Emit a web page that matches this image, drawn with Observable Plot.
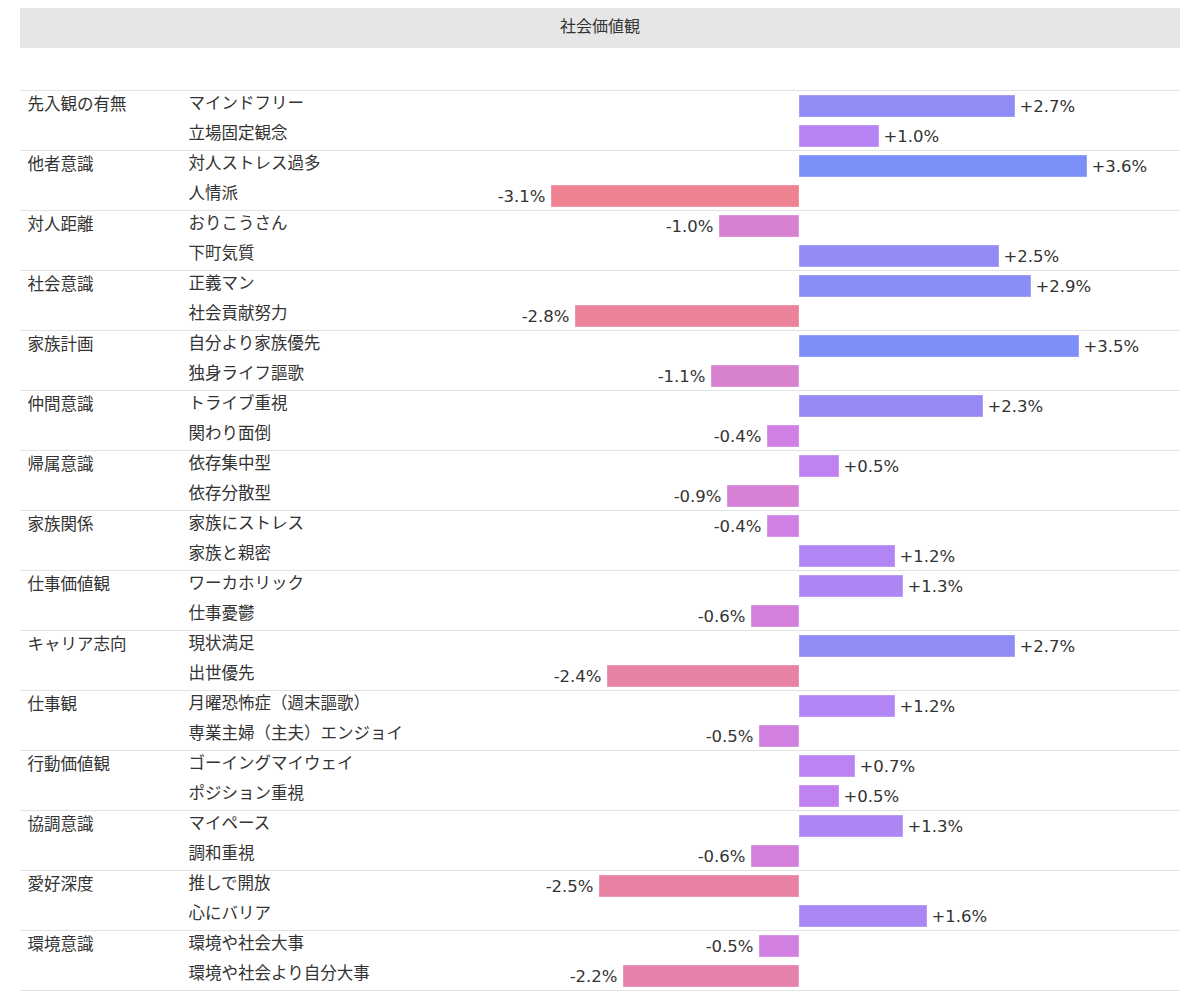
<!DOCTYPE html>
<html>
<head>
<meta charset="utf-8">
<script src="https://cdn.jsdelivr.net/npm/d3@7"></script>
<script src="https://cdn.jsdelivr.net/npm/@observablehq/plot@0.6"></script>
<style>
  body { margin: 0; background: #fff; font-family: "DejaVu Sans", "Noto Sans CJK JP", sans-serif; }
  #header { margin: 8px 20px 0 20px; height: 40px; line-height: 38px; background: #e6e6e6; color: #333; text-align: center; font-size: 16px; }
  #chart svg { display: block; }
</style>
</head>
<body>
<div id="header"></div>
<div id="chart"></div>
<script>
const title = "社会価値観";
const groups = ["先入観の有無", "他者意識", "対人距離", "社会意識", "家族計画", "仲間意識", "帰属意識", "家族関係", "仕事価値観", "キャリア志向", "仕事観", "行動価値観", "協調意識", "愛好深度", "環境意識"];
const items = [
  "マインドフリー", "立場固定観念",
  "対人ストレス過多", "人情派",
  "おりこうさん", "下町気質",
  "正義マン", "社会貢献努力",
  "自分より家族優先", "独身ライフ謳歌",
  "トライブ重視", "関わり面倒",
  "依存集中型", "依存分散型",
  "家族にストレス", "家族と親密",
  "ワーカホリック", "仕事憂鬱",
  "現状満足", "出世優先",
  "月曜恐怖症（週末謳歌）", "専業主婦（主夫）エンジョイ",
  "ゴーイングマイウェイ", "ポジション重視",
  "マイペース", "調和重視",
  "推しで開放", "心にバリア",
  "環境や社会大事", "環境や社会より自分大事"
];
const values = [
  2.7, 1.0,
  3.6, -3.1,
  -1.0, 2.5,
  2.9, -2.8,
  3.5, -1.1,
  2.3, -0.4,
  0.5, -0.9,
  -0.4, 1.2,
  1.3, -0.6,
  2.7, -2.4,
  1.2, -0.5,
  0.7, 0.5,
  1.3, -0.6,
  -2.5, 1.6,
  -0.5, -2.2
];
const itemsPerGroup = 2;

document.getElementById("header").textContent = title;

const rows = items.map((item, i) => ({
  group: groups[Math.floor(i / itemsPerGroup)],
  item,
  value: values[i],
  first: i % itemsPerGroup === 0,
  last: i === items.length - 1
}));
const firstRows = rows.filter(d => d.first);
const lastRows = rows.filter(d => d.last);

const fmt = v => (v > 0 ? "+" : "-") + Math.abs(v).toFixed(1) + "%";
const font = "'DejaVu Sans', 'Noto Sans CJK JP', sans-serif";

const chart = Plot.plot({
  width: 1200,
  height: 952,
  marginLeft: 20,
  marginRight: 20,
  marginTop: 0,
  marginBottom: 0,
  style: { fontFamily: font, fontSize: "16px", color: "#333", background: "#fff" },
  x: { domain: [-5, 4.75], range: [399, 1179], axis: null },
  y: { domain: items, range: [42, 942], paddingInner: 0.27, paddingOuter: 0.135, align: 0.6, axis: null },
  color: {
    type: "linear",
    domain: [-3.1, 0, 3.6],
    range: ["#ee8290", "#cc80f0", "#7a90f8"],
    interpolate: "rgb"
  },
  marks: [
    Plot.ruleY(firstRows, { y: "item", dy: -16, stroke: "#e2e2e2", strokeWidth: 1 }),
    Plot.ruleY(lastRows, { y: "item", dy: 14, stroke: "#e2e2e2", strokeWidth: 1 }),
    Plot.barX(rows, { y: "item", x1: 0, x2: "value", fill: "value", stroke: "#ffffff", strokeOpacity: 0.35, strokeWidth: 1 }),
    Plot.text(firstRows, { y: "item", text: "group", frameAnchor: "left", dx: 7, dy: -2, textAnchor: "start", fill: "#333", fontSize: 16.5 }),
    Plot.text(rows, { y: "item", text: "item", frameAnchor: "left", dx: 168, dy: -3, textAnchor: "start", fill: "#333", fontSize: 16.5 }),
    Plot.text(rows.filter(d => d.value >= 0), { y: "item", x: "value", text: d => fmt(d.value), textAnchor: "start", dx: 4, dy: 0, fill: "#333", fontSize: 16.5 }),
    Plot.text(rows.filter(d => d.value < 0), { y: "item", x: "value", text: d => fmt(d.value), textAnchor: "end", dx: -6, dy: 0, fill: "#333", fontSize: 16.5 })
  ]
});
document.getElementById("chart").appendChild(chart);
</script>
</body>
</html>
